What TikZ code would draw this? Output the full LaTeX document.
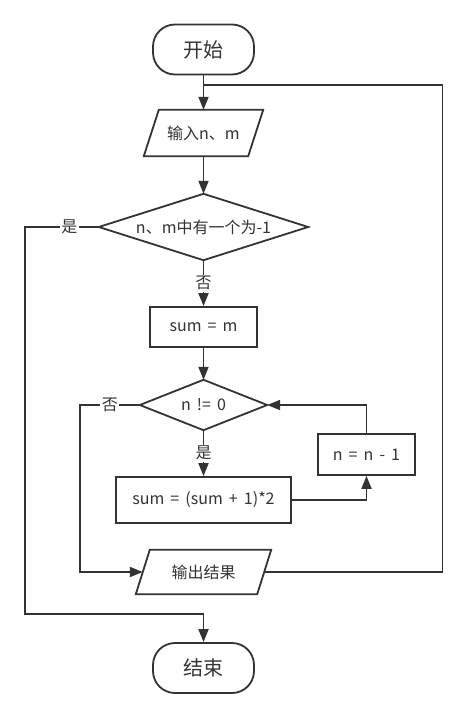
\documentclass[tikz,border=0pt]{standalone}
\usepackage{fontspec}
\setmainfont{Noto Sans CJK SC}[WordSpace=1.7]
\usetikzlibrary{arrows.meta,calc}
\definecolor{ln}{HTML}{333333}
\begin{document}
\begin{tikzpicture}[x=1bp,y=-1bp,
  line/.style={draw=ln, line width=1.8bp},
  arr/.style={line, -{Triangle[length=13bp,width=10bp]}},
  txt/.style={text=ln, font=\fontsize{16bp}{19bp}\selectfont},
  term/.style={txt, line, fill=white, rounded corners=22bp, minimum width=101bp, minimum height=50bp, inner sep=0pt, font=\fontsize{20bp}{24bp}\selectfont},
  proc/.style={txt, line, fill=white, inner sep=0pt},
  ghost/.style={txt, inner sep=0pt},
  lab/.style={txt, fill=white, inner sep=1.5bp}
]
\fill[white] (0,0) rectangle (467,718);
\useasboundingbox (0,0) rectangle (467,718);

% nodes
\node[term] (start) at (203.5,49.5) {开始};
\node[ghost, minimum width=104bp, minimum height=46bp] (in) at (203.5,133) {输入n、m};
\node[ghost, minimum width=209bp, minimum height=66bp] (d1) at (203.5,227) {n、m中有一个为-1};
\node[proc, minimum width=107bp, minimum height=40bp] (s1) at (203.5,327) {sum = m};
\node[ghost, minimum width=127bp, minimum height=50bp] (d2) at (203.5,405) {n != 0};
\node[proc, minimum width=175bp, minimum height=46bp] (s2) at (203.5,500) {sum = (sum + 1)*2};
\node[proc, minimum width=97bp, minimum height=41bp] (s3) at (366.5,454.5) {n = n - 1};
\node[ghost, minimum width=121bp, minimum height=44bp] (out) at (203.5,572) {输出结果};
\node[term] (end) at (203.5,668) {结束};

% shapes of ghost nodes
\draw[line] ($(in.north west)+(7.5,0)$) -- ($(in.north east)+(7.5,0)$) -- ($(in.south east)+(-7.5,0)$) -- ($(in.south west)+(-7.5,0)$) -- cycle;
\draw[line] ($(out.north west)+(7,0)$) -- ($(out.north east)+(7,0)$) -- ($(out.south east)+(-7,0)$) -- ($(out.south west)+(-7,0)$) -- cycle;
\draw[line] (d1.north) -- (d1.east) -- (d1.south) -- (d1.west) -- cycle;
\draw[line] (d2.north) -- (d2.east) -- (d2.south) -- (d2.west) -- cycle;

% helper coordinates
\coordinate (rt) at (442.5,85);
\coordinate (lx) at (25,614);
\coordinate (lx2) at (80,572);
\coordinate (up) at (366.5,405);

% connectors
\draw[arr] (start.south) -- (in.north);
\draw[line] (out.east) -| (rt) -- (rt -| start.south);
\draw[arr] (in.south) -- (d1.north);
\draw[arr] (d1.south) -- node[lab]{否} (s1.north);
\draw[arr] (d1.west) -- node[lab,pos=0.4]{是} (d1.west -| lx) -- (lx) -| (end.north);
\draw[arr] (s1.south) -- (d2.north);
\draw[arr] (d2.south) -- node[lab]{是} (s2.north);
\draw[arr] (s2.east) -| (s3.south);
\draw[arr] (s3.north) -- (up) -- (d2.east);
\draw[arr] (d2.west) -- node[lab]{否} (d2.west -| lx2) -- (lx2) -- (out.west);
\end{tikzpicture}
\end{document}
